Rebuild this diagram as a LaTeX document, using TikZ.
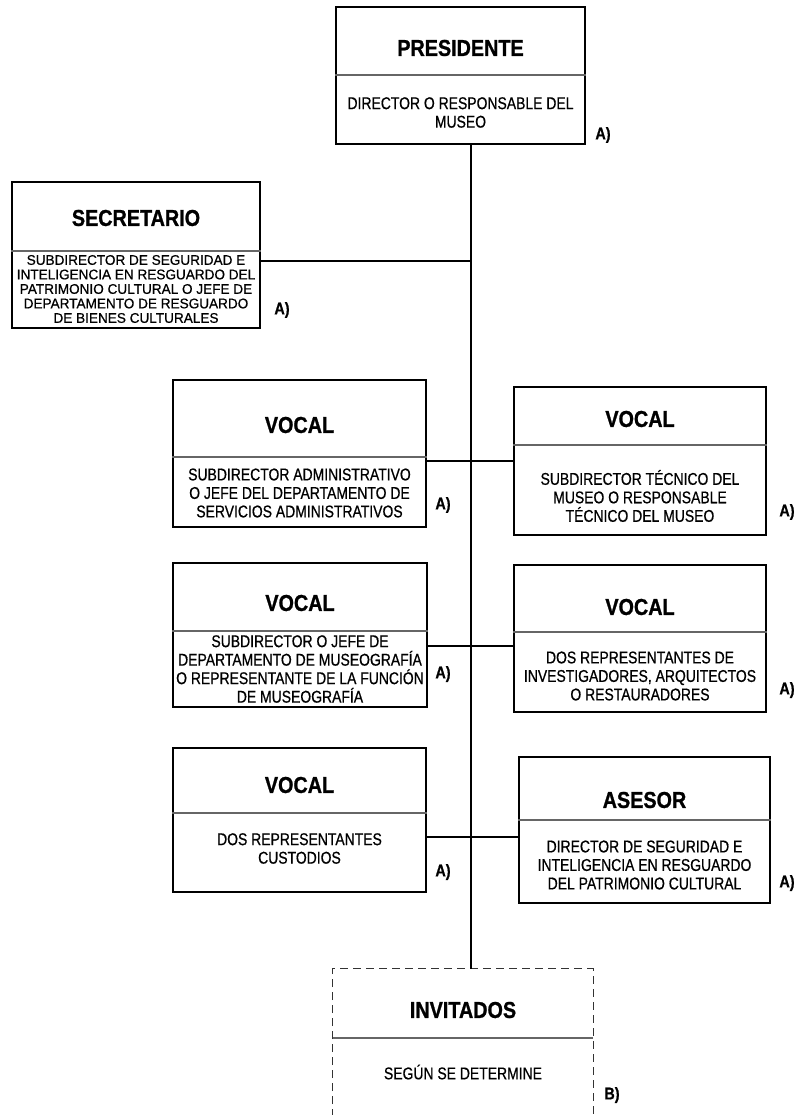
\documentclass[tikz,border=0pt]{standalone}
\usepackage{fontspec}
\setmainfont{Liberation Sans}
\newfontfamily\titlefont[FakeStretch=0.86,FakeBold=1]{Liberation Sans}
\newfontfamily\bodyfont[FakeStretch=0.82,FakeBold=0.6]{Liberation Sans}
\newfontfamily\secfont[FakeStretch=0.97,FakeBold=0.6]{Liberation Sans}
\newfontfamily\labfont[FakeStretch=0.85,FakeBold=0.8]{Liberation Sans}
\begin{document}
\begin{tikzpicture}[x=1pt,y=-1pt,
  box/.style={draw=black, line width=1.3pt, inner sep=0pt},
  ghost/.style={draw=none, inner sep=0pt},
  ttl/.style={font=\titlefont\bfseries\fontsize{23}{25}\selectfont, inner sep=0pt},
  bdy/.style={font=\bodyfont\fontsize{17}{18.5}\selectfont, align=center, inner sep=0pt},
  bdysec/.style={font=\secfont\fontsize{14}{14.5}\selectfont, align=center, inner sep=0pt},
  lab/.style={font=\labfont\bfseries\fontsize{17}{17}\selectfont, inner sep=0pt},
  divider/.style={draw=black!60, line width=1.3pt},
  conn/.style={draw=black, line width=1.3pt},
  spine/.style={draw=black, line width=2pt},
  dashedbox/.style={draw=black!80, line width=1.1pt, dash pattern=on 8pt off 5pt}]
\useasboundingbox (0,0) rectangle (796,1115);
\fill[white] (0,0) rectangle (796,1115);

% ---------- boxes ----------
\node[box, minimum width=249, minimum height=137] (pres) at (460.5,75.5) {};
\node[box, minimum width=248, minimum height=146] (sec) at (136,255) {};
\node[box, minimum width=253, minimum height=147] (v1) at (299.5,453.5) {};
\node[box, minimum width=252, minimum height=148] (v2) at (640,461) {};
\node[box, minimum width=254, minimum height=144] (v3) at (300,635) {};
\node[box, minimum width=252, minimum height=147] (v4) at (640,638.5) {};
\node[box, minimum width=253, minimum height=144] (v5) at (299.5,820) {};
\node[box, minimum width=251, minimum height=146] (ase) at (644.5,830) {};
\node[ghost, minimum width=260, minimum height=148] (inv) at (463,1043) {};
\draw[dashedbox] (inv.south west) -- (inv.north west) -- (inv.north east) -- (inv.south east);

% ---------- dividers ----------
\draw[divider] (pres.west |- 0,75) -- (pres.east |- 0,75);
\draw[divider] (sec.west |- 0,251) -- (sec.east |- 0,251);
\draw[divider] (v1.west |- 0,457) -- (v1.east |- 0,457);
\draw[divider] (v2.west |- 0,445) -- (v2.east |- 0,445);
\draw[divider] (v3.west |- 0,631) -- (v3.east |- 0,631);
\draw[divider] (v4.west |- 0,632) -- (v4.east |- 0,632);
\draw[divider] (v5.west |- 0,813) -- (v5.east |- 0,813);
\draw[divider] (ase.west |- 0,820) -- (ase.east |- 0,820);
\draw[divider] (inv.west |- 0,1038) -- (inv.east |- 0,1038);

% ---------- titles ----------
\node[ttl] (pres-t) at (460.5,48) {PRESIDENTE};
\node[ttl] (sec-t) at (136,218) {SECRETARIO};
\node[ttl] (v1-t) at (299.5,425) {VOCAL};
\node[ttl] (v2-t) at (640,419) {VOCAL};
\node[ttl] (v3-t) at (300,603) {VOCAL};
\node[ttl] (v4-t) at (640,607) {VOCAL};
\node[ttl] (v5-t) at (299.5,785) {VOCAL};
\node[ttl] (ase-t) at (644.5,800) {ASESOR};
\node[ttl] (inv-t) at (463,1010) {INVITADOS};

% ---------- bodies ----------
\node[bdy] (pres-b) at (460.5,112.5) {DIRECTOR O RESPONSABLE DEL\\MUSEO};
\node[bdysec] (sec-b) at (136,289) {SUBDIRECTOR DE SEGURIDAD E\\INTELIGENCIA EN RESGUARDO DEL\\PATRIMONIO CULTURAL O JEFE DE\\DEPARTAMENTO DE RESGUARDO\\DE BIENES CULTURALES};
\node[bdy] (v1-b) at (299.5,493) {SUBDIRECTOR ADMINISTRATIVO\\O JEFE DEL DEPARTAMENTO DE\\SERVICIOS ADMINISTRATIVOS};
\node[bdy] (v2-b) at (640,496) {SUBDIRECTOR TÉCNICO DEL\\MUSEO O RESPONSABLE\\TÉCNICO DEL MUSEO};
\node[bdy] (v3-b) at (300,669) {SUBDIRECTOR O JEFE DE\\DEPARTAMENTO DE MUSEOGRAFÍA\\O REPRESENTANTE DE LA FUNCIÓN\\DE MUSEOGRAFÍA};
\node[bdy] (v4-b) at (640,676) {DOS REPRESENTANTES DE\\INVESTIGADORES, ARQUITECTOS\\O RESTAURADORES};
\node[bdy] (v5-b) at (299.5,848.5) {DOS REPRESENTANTES\\CUSTODIOS};
\node[bdy] (ase-b) at (644.5,865) {DIRECTOR DE SEGURIDAD E\\INTELIGENCIA EN RESGUARDO\\DEL PATRIMONIO CULTURAL};
\node[bdy] (inv-b) at (463,1072) {SEGÚN SE DETERMINE};

% ---------- labels ----------
\node[lab] (pres-l) at (603,135) {A)};
\node[lab] (sec-l) at (282,310) {A)};
\node[lab] (v1-l) at (443,505) {A)};
\node[lab] (v2-l) at (787,512) {A)};
\node[lab] (v3-l) at (443,674) {A)};
\node[lab] (v4-l) at (787,690) {A)};
\node[lab] (v5-l) at (443,872) {A)};
\node[lab] (ase-l) at (787,883) {A)};
\node[lab] (inv-l) at (612,1095) {B)};

% ---------- connectors ----------
\coordinate (sp) at (471,0);
\coordinate (j1) at (471,261);
\coordinate (j2) at (471,461);
\coordinate (j3) at (471,646);
\coordinate (j4) at (471,837);
\draw[spine] (pres.south -| sp) -- (inv.north -| sp);
\draw[conn] (sec.east |- j1) -- (j1);
\draw[conn] (v1.east |- j2) -- (v2.west |- j2);
\draw[conn] (v3.east |- j3) -- (v4.west |- j3);
\draw[conn] (v5.east |- j4) -- (ase.west |- j4);
\end{tikzpicture}
\end{document}
